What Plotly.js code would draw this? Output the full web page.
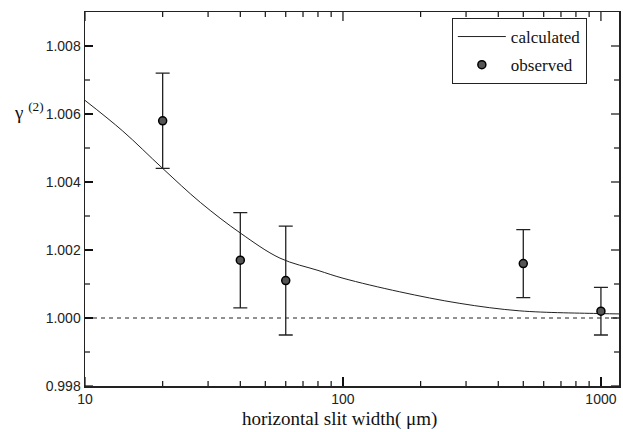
<!DOCTYPE html>
<html><head><meta charset="utf-8">
<script src="https://cdn.plot.ly/plotly-3.0.1.min.js"></script>
<style>html,body{margin:0;padding:0;background:#fff}#chart{width:623px;height:432px}</style>
</head><body><div id="chart"></div>
<script>
// calculated curve
var calcX = [10, 14, 20, 28, 40, 57, 80, 100, 166, 284, 485, 1000, 1175];
var calcY = [1.0064, 1.0055, 1.0044, 1.0034, 1.0025, 1.00176, 1.00140, 1.00117, 1.00077, 1.00043, 1.00021, 1.00013, 1.00012];
// observed points
var obsX = [20, 40, 60, 500, 1000];
var obsY = [1.0058, 1.0017, 1.0011, 1.0016, 1.0002];
var errUp = [1.0072, 1.0031, 1.0027, 1.0026, 1.0009];
var errLo = [1.0044, 1.0003, 0.9995, 1.0006, 0.9995];
// reference level
var refX = [10, 1175];
var refY = [1.0, 1.0];
// tick labels
var xTickVals = [10, 100, 1000];
var xTickText = ['10', '100', '1000'];
var xMinorVals = [20, 30, 40, 50, 60, 70, 80, 90, 200, 300, 400, 500, 600, 700, 800, 900];
var yTickVals = [0.998, 1.000, 1.002, 1.004, 1.006, 1.008];
var yTickText = ['0.998', '1.000', '1.002', '1.004', '1.006', '1.008'];
var yMinorVals = [0.999, 1.001, 1.003, 1.005, 1.007];

var plus = obsY.map(function(v,i){return errUp[i]-v;});
var minus = obsY.map(function(v,i){return v-errLo[i];});

var PW = 534, PH = 374;
var shapes = [];
function addXTicks(vals, len) {
  vals.forEach(function(v){
    shapes.push({type:'line', layer:'above', xref:'x', yref:'paper', x0:v, x1:v, y0:0, y1:len/PH, line:{color:'#111', width:1.2}});
    shapes.push({type:'line', layer:'above', xref:'x', yref:'paper', x0:v, x1:v, y0:1, y1:1-len/PH, line:{color:'#111', width:1.2}});
  });
}
function addYTicks(vals, len) {
  vals.forEach(function(v){
    shapes.push({type:'line', layer:'above', xref:'paper', yref:'y', x0:0, x1:len/PW, y0:v, y1:v, line:{color:'#111', width:1.2}});
    shapes.push({type:'line', layer:'above', xref:'paper', yref:'y', x0:1, x1:1-len/PW, y0:v, y1:v, line:{color:'#111', width:1.2}});
  });
}
addXTicks(xTickVals, 9); addXTicks(xMinorVals, 5);
addYTicks(yTickVals, 8); addYTicks(yMinorVals, 5);

var traces = [
  {x: refX, y: refY, mode:'lines', line:{color:'#222', width:1, dash:'4px,4px'}, showlegend:false, hoverinfo:'skip'},
  {x: calcX, y: calcY, mode:'lines', name:'calculated', legendgroup:'a', line:{color:'#222', width:1, shape:'spline', smoothing:1}},
  {x: obsX, y: obsY, mode:'markers', name:'observed', legendgroup:'b',
   marker:{size:8, color:'#555', line:{color:'#000', width:1.5}},
   error_y:{type:'data', symmetric:false, array:plus, arrayminus:minus, color:'#222', thickness:1.3, width:7}}
];

var tickFont = {family:'"Liberation Sans Narrow","Liberation Sans",Arial,sans-serif', size:14, color:'#222'};
var serif = '"Liberation Serif","Times New Roman",serif';
var layout = {
  width:623, height:432,
  margin:{l:85, r:4, t:12, b:46},
  paper_bgcolor:'#fff', plot_bgcolor:'#fff',
  showlegend:true,
  shapes: shapes,
  legend:{x:0.687, y:0.984, xanchor:'left', yanchor:'top', bgcolor:'#fff', bordercolor:'#222', borderwidth:1,
    traceorder:'grouped', tracegroupgap:3, itemwidth:48,
    font:{family:serif, size:17, color:'#111'}},
  xaxis:{type:'log', range:[1, Math.log10(1175)], tickvals:xTickVals, ticktext:xTickText,
    ticks:'inside', ticklen:9, tickwidth:1.2, tickcolor:'#111', showline:true, linecolor:'#222', linewidth:1.5, mirror:true,
    showgrid:false, zeroline:false, tickfont:tickFont},
  yaxis:{range:[0.998, 1.009], tickvals:yTickVals, ticktext:yTickText,
    ticks:'inside', ticklen:8, tickwidth:1.2, tickcolor:'#111', showline:true, linecolor:'#222', linewidth:1.5, mirror:true,
    showgrid:false, zeroline:false, tickfont:tickFont},
  annotations:[
    {xref:'paper', yref:'paper', x:-0.105, y:0.735, xanchor:'center', yanchor:'middle', showarrow:false,
     text:'γ <sup>(2)</sup>', font:{family:serif, size:19, color:'#111'}},
    {xref:'paper', yref:'paper', x:0.476, y:-0.088, xanchor:'center', yanchor:'middle', showarrow:false,
     text:'horizontal slit width( μm)', font:{family:serif, size:19, color:'#111'}}
  ]
};
Plotly.newPlot('chart', traces, layout, {staticPlot:true});
</script></body></html>
